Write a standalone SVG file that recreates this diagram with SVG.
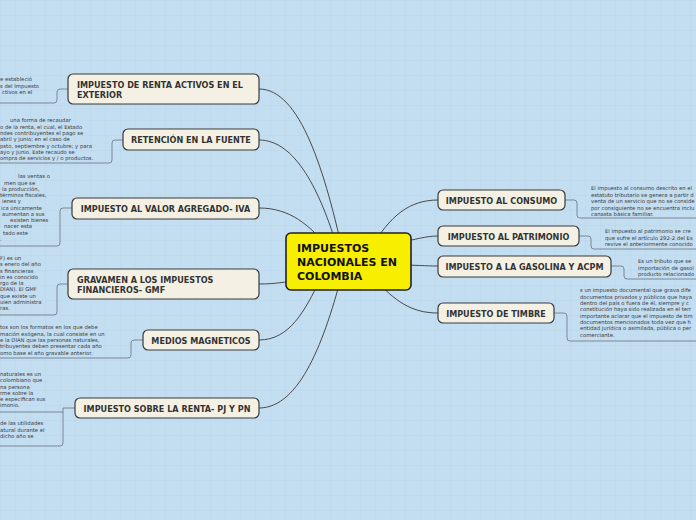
<svg xmlns="http://www.w3.org/2000/svg" width="696" height="520" viewBox="0 0 696 520">
<defs>
<pattern id="grid" width="15" height="15" patternUnits="userSpaceOnUse">
<path d="M15 0H0V15" fill="none" stroke="#b3d1e9" stroke-width="0.6"/>
</pattern>
<style>
.node{fill:#f4f1e4;stroke:#3a3a3a;stroke-width:1.2}
.lbl{font-family:"DejaVu Sans",Verdana,sans-serif;font-weight:bold;font-size:8.1px;fill:#333}
.desc{font-family:"DejaVu Sans",Verdana,sans-serif;font-size:5.3px;fill:#3a3a3a}
.con{fill:none;stroke:#4a4a4a;stroke-width:1}
.br{fill:none;stroke:#6a7580;stroke-width:0.8}
</style>
</defs>
<rect width="696" height="520" fill="#c3ddf1"/>
<rect width="696" height="520" fill="url(#grid)"/>

<g id="connectors">
<path class="con" d="M259,89 C300,89 325,170 345,262"/>
<path class="con" d="M259,140 C295,140 320,190 338,250"/>
<path class="con" d="M259,208 C290,208 310,225 330,250"/>
<path class="con" d="M259,284 C275,284 285,282 300,280"/>
<path class="con" d="M259,340 C290,340 305,310 320,280"/>
<path class="con" d="M259,408 C300,408 325,340 343,270"/>
<path class="con" d="M438,200 C410,200 390,215 370,250"/>
<path class="con" d="M438,236 C425,236 415,240 400,242"/>
<path class="con" d="M438,266 C425,266 415,265 400,265"/>
<path class="con" d="M438,313 C410,313 395,300 375,280"/>
<path class="br" d="M68,89 H60 Q57,89 57,92 V100 Q57,103 54,103 H0"/>
<path class="br" d="M123,140 H115 Q112,140 112,143 V160 Q112,163 109,163 H0"/>
<path class="br" d="M72,208 H63 Q60,208 60,211 V243 Q60,246 57,246 H0"/>
<path class="br" d="M68,284 H60 Q57,284 57,287 V312 Q57,315 54,315 H0"/>
<path class="br" d="M143,340 H134 Q131,340 131,343 V355 Q131,358 128,358 H0"/>
<path class="br" d="M75,408 H63 V443 Q63,446 60,446 H0 M63,412 H0"/>
<path class="br" d="M565,200 H574 Q577,200 577,203 V215 Q577,218 580,218 H696"/>
<path class="br" d="M579,236 H588 Q591,236 591,239 V246 Q591,249 594,249 H696"/>
<path class="br" d="M611,266 H621 Q624,266 624,269 V276 Q624,279 627,279 H696"/>
<path class="br" d="M554,313 H564 Q567,313 567,316 V338 Q567,341 570,341 H696"/>
</g>

<g id="central">
<rect x="286" y="233" width="125" height="57" rx="5" fill="#f8ef00" stroke="#222" stroke-width="1.6"/>
<text font-family="DejaVu Sans,Verdana,sans-serif" font-weight="bold" font-size="11px" fill="#111">
<tspan x="297" y="252">IMPUESTOS</tspan><tspan x="297" y="266">NACIONALES EN</tspan><tspan x="297" y="280">COLOMBIA</tspan></text>
</g>

<g id="n-renta-exterior">
<rect class="node" x="68" y="74" width="191" height="30" rx="5"/>
<text class="lbl"><tspan x="77" y="88">IMPUESTO DE RENTA ACTIVOS EN EL</tspan><tspan x="77" y="98">EXTERIOR</tspan></text>
<text class="desc"><tspan x="0" y="81">e estableció</tspan><tspan x="0" y="87.5">s del Impuesto</tspan><tspan x="2" y="94">ctivos en el</tspan></text>
</g>

<g id="n-retencion">
<rect class="node" x="123" y="129" width="136" height="21" rx="5"/>
<text class="lbl" x="191" y="143" text-anchor="middle">RETENCIÓN EN LA FUENTE</text>
<text class="desc"><tspan x="10" y="122">una forma de recaudar</tspan><tspan x="0" y="128.5">o de la renta, el cual, el Estado</tspan><tspan x="0" y="134.5">ndes contribuyentes el pago se</tspan><tspan x="0" y="141">abril y junio; en el caso de</tspan><tspan x="0" y="147.5">psto, septiembre y octubre; y para</tspan><tspan x="0" y="153.5">ayo y junio. Este recaudo se</tspan><tspan x="0" y="160">ompra de servicios y / o productos.</tspan></text>
</g>

<g id="n-iva">
<rect class="node" x="72" y="198" width="187" height="21" rx="5"/>
<text class="lbl" x="165.5" y="212" text-anchor="middle">IMPUESTO AL VALOR AGREGADO- IVA</text>
<text class="desc"><tspan x="18" y="178">las ventas o</tspan><tspan x="4" y="184.5">men que se</tspan><tspan x="2" y="190.5">la producción,</tspan><tspan x="0" y="197">términos fiscales,</tspan><tspan x="2" y="203">ienes y</tspan><tspan x="1" y="209.5">ica únicamente</tspan><tspan x="2" y="215.5">aumentan a sus</tspan><tspan x="10" y="222">existen bienes</tspan><tspan x="4" y="228">nacer esta</tspan><tspan x="3" y="234.5">tado este</tspan><tspan x="0" y="240.5">.</tspan></text>
</g>

<g id="n-gmf">
<rect class="node" x="68" y="269" width="191" height="30" rx="5"/>
<text class="lbl"><tspan x="77" y="283">GRAVAMEN A LOS IMPUESTOS</tspan><tspan x="77" y="293">FINANCIEROS- GMF</tspan></text>
<text class="desc"><tspan x="0" y="260">F) es un</tspan><tspan x="0" y="266">s enero del año</tspan><tspan x="0" y="272.5">s financieras</tspan><tspan x="0" y="278.5">in es conocido</tspan><tspan x="0" y="285">rgo de la</tspan><tspan x="0" y="291">DIAN). El GMF</tspan><tspan x="0" y="297.5">que existe un</tspan><tspan x="0" y="303.5">uien administra</tspan><tspan x="0" y="310">ras.</tspan></text>
</g>

<g id="n-medios">
<rect class="node" x="143" y="330" width="116" height="20" rx="5"/>
<text class="lbl" x="201" y="343.5" text-anchor="middle">MEDIOS MAGNETICOS</text>
<text class="desc"><tspan x="0" y="329">tos son los formatos en los que debe</tspan><tspan x="0" y="335.5">mación exógena, la cual consiste en un</tspan><tspan x="0" y="342">e la DIAN que las personas naturales,</tspan><tspan x="0" y="348">tribuyentes deben presentar cada año</tspan><tspan x="0" y="354.5">omo base el año gravable anterior.</tspan></text>
</g>

<g id="n-renta-pj-pn">
<rect class="node" x="75" y="398" width="184" height="20" rx="5"/>
<text class="lbl" x="167" y="411.5" text-anchor="middle">IMPUESTO SOBRE LA RENTA- PJ Y PN</text>
<text class="desc"><tspan x="0" y="376">naturales es un</tspan><tspan x="0" y="382">colombiano que</tspan><tspan x="0" y="388.5">na persona</tspan><tspan x="0" y="394.5">rme sobre la</tspan><tspan x="0" y="401">e especifican sus</tspan><tspan x="0" y="407">imonio.</tspan></text>
<text class="desc"><tspan x="0" y="425">de las utilidades</tspan><tspan x="0" y="431.5">atural durante el</tspan><tspan x="0" y="437.5">dicho año se</tspan></text>
</g>

<g id="n-consumo">
<rect class="node" x="438" y="190" width="127" height="20" rx="5"/>
<text class="lbl" x="501.5" y="203.5" text-anchor="middle">IMPUESTO AL CONSUMO</text>
<text class="desc"><tspan x="591" y="190">El impuesto al consumo descrito en el</tspan><tspan x="591" y="196.5">estatuto tributario se genera a partir d</tspan><tspan x="591" y="203">venta de un servicio que no se conside</tspan><tspan x="591" y="209.5">por consiguiente no se encuentra inclu</tspan><tspan x="591" y="216">canasta básica familiar.</tspan></text>
</g>

<g id="n-patrimonio">
<rect class="node" x="438" y="226" width="141" height="20" rx="5"/>
<text class="lbl" x="508.5" y="239.5" text-anchor="middle">IMPUESTO AL PATRIMONIO</text>
<text class="desc"><tspan x="605" y="233">El impuesto al patrimonio se cre</tspan><tspan x="605" y="239.5">que sufre el artículo 292-2 del Es</tspan><tspan x="605" y="246">revive el anteriormente conocido</tspan></text>
</g>

<g id="n-gasolina">
<rect class="node" x="438" y="256" width="173" height="21" rx="5"/>
<text class="lbl" x="524.5" y="270" text-anchor="middle">IMPUESTO A LA GASOLINA Y ACPM</text>
<text class="desc"><tspan x="638" y="263">Es un tributo que se</tspan><tspan x="638" y="269.5">importación de gasol</tspan><tspan x="638" y="276">producto relacionado</tspan></text>
</g>

<g id="n-timbre">
<rect class="node" x="438" y="303" width="116" height="20" rx="5"/>
<text class="lbl" x="496" y="316.5" text-anchor="middle">IMPUESTO DE TIMBRE</text>
<text class="desc"><tspan x="580" y="292">s un impuesto documental que grava dife</tspan><tspan x="580" y="298.5">documentos privados y públicos que haya</tspan><tspan x="580" y="305">dentro del país o fuera de él, siempre y c</tspan><tspan x="580" y="311">constitución haya sido realizada en el terr</tspan><tspan x="580" y="317.5">importante aclarar que el impuesto de tim</tspan><tspan x="580" y="324">documentos mencionados toda vez que h</tspan><tspan x="580" y="330">entidad jurídica o asimilada, pública o per</tspan><tspan x="580" y="336.5">comerciante.</tspan></text>
</g>
</svg>
